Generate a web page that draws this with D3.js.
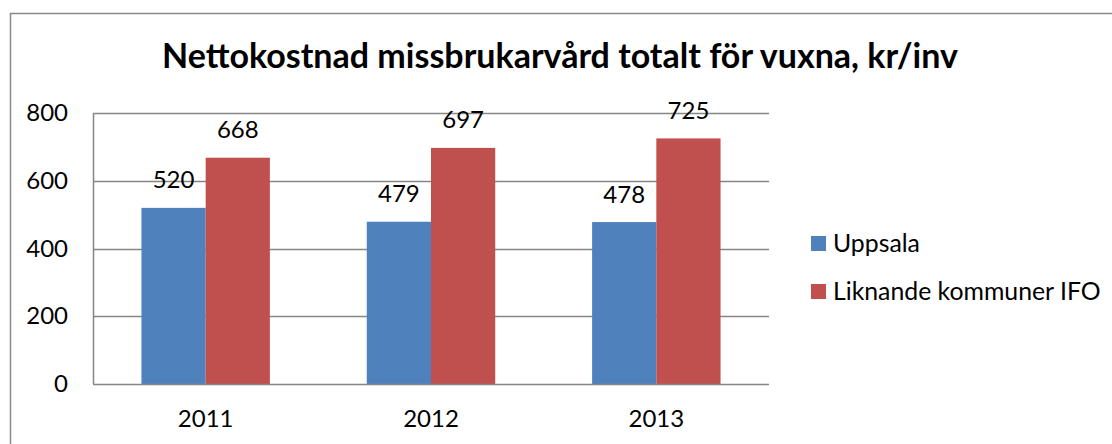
<!DOCTYPE html>
<html>
<head>
<meta charset="utf-8">
<script src="https://cdn.jsdelivr.net/npm/d3@7"></script>
<style>
  html, body { margin: 0; padding: 0; background: #fff; }
  svg { display: block; }
  text { font-family: Lato, "Open Sans", sans-serif; fill: #000; }
</style>
</head>
<body>
<svg id="chart" width="1112" height="444"></svg>
<script>
const title = "Nettokostnad missbrukarvård totalt för vuxna, kr/inv";
const categories = ["2011", "2012", "2013"];
const seriesNames = ["Uppsala", "Liknande kommuner IFO"];
const uppsala = [520, 479, 478];
const liknande = [668, 697, 725];
const yTicks = [0, 200, 400, 600, 800];
const colors = ["#4F81BD", "#C0504D"];

const seriesValues = [uppsala, liknande];
const data = categories.map((c, i) => ({
  cat: c,
  vals: seriesNames.map((s, j) => ({ s, v: seriesValues[j][i], j }))
}));

const svg = d3.select("#chart");
const plot = { left: 93, right: 769, top: 113, bottom: 384 };

// outer chart border
svg.append("rect")
  .attr("x", 10.5).attr("y", 13.5)
  .attr("width", 1200).attr("height", 600)
  .attr("fill", "#fff").attr("stroke", "#8a8a8a").attr("stroke-width", 1.5);

const x0 = d3.scaleBand().domain(categories)
  .range([plot.left, plot.right]).paddingInner(0.43).paddingOuter(0.215);
const x1 = d3.scaleBand().domain(seriesNames).range([0, x0.bandwidth()]);
const y = d3.scaleLinear().domain([0, 800]).range([plot.bottom, plot.top]);

// gridlines
svg.append("g").selectAll("line").data(yTicks.filter(t => t > 0)).join("line")
  .attr("x1", plot.left).attr("x2", plot.right)
  .attr("y1", d => Math.round(y(d)) + 0.5).attr("y2", d => Math.round(y(d)) + 0.5)
  .attr("stroke", "#868686").attr("stroke-width", 1.5);

// bars
const groups = svg.append("g").selectAll("g").data(data).join("g")
  .attr("transform", d => `translate(${x0(d.cat)},0)`);
groups.selectAll("rect").data(d => d.vals).join("rect")
  .attr("x", d => x1(d.s)).attr("width", x1.bandwidth())
  .attr("y", d => y(d.v)).attr("height", d => y(0) - y(d.v))
  .attr("fill", d => colors[d.j]);

// value labels
groups.selectAll("text").data(d => d.vals).join("text")
  .attr("x", d => x1(d.s) + x1.bandwidth() / 2)
  .attr("y", d => y(d.v) - 19.5)
  .attr("text-anchor", "middle")
  .attr("font-size", 24)
  .text(d => d.v);

// y axis line
svg.append("line")
  .attr("x1", plot.left + 0.5).attr("x2", plot.left + 0.5)
  .attr("y1", plot.top).attr("y2", plot.bottom)
  .attr("stroke", "#868686").attr("stroke-width", 1.5);
// x axis line
svg.append("line")
  .attr("x1", plot.left).attr("x2", plot.right)
  .attr("y1", plot.bottom + 0.5).attr("y2", plot.bottom + 0.5)
  .attr("stroke", "#868686").attr("stroke-width", 1.5);

// y tick labels
const yAxis = d3.axisLeft(y).tickValues(yTicks).tickSize(0).tickPadding(25);
const yg = svg.append("g").attr("transform", `translate(${plot.left},0)`).call(yAxis);
yg.select(".domain").remove();
yg.selectAll("text").attr("font-size", 24).attr("font-family", "Lato, sans-serif").attr("fill", "#000");

// x tick labels
const xAxis = d3.axisBottom(x0).tickSize(0).tickPadding(0);
const xg = svg.append("g").attr("transform", `translate(0,${plot.bottom})`).call(xAxis);
xg.select(".domain").remove();
xg.selectAll("text").attr("font-size", 24).attr("font-family", "Lato, sans-serif").attr("fill", "#000")
  .attr("dy", null).attr("y", 43);

// title
svg.append("text")
  .attr("x", 560).attr("y", 68)
  .attr("text-anchor", "middle")
  .attr("font-size", 34).attr("font-weight", "bold")
  .text(title);

// legend
const lg = svg.append("g").selectAll("g").data(seriesNames).join("g")
  .attr("transform", (d, i) => `translate(811,${236 + i * 48})`);
lg.append("rect").attr("width", 15).attr("height", 15).attr("fill", (d, i) => colors[i]);
lg.append("text").attr("x", 22).attr("y", 16).attr("font-size", 24.8).text(d => d);
</script>
</body>
</html>
